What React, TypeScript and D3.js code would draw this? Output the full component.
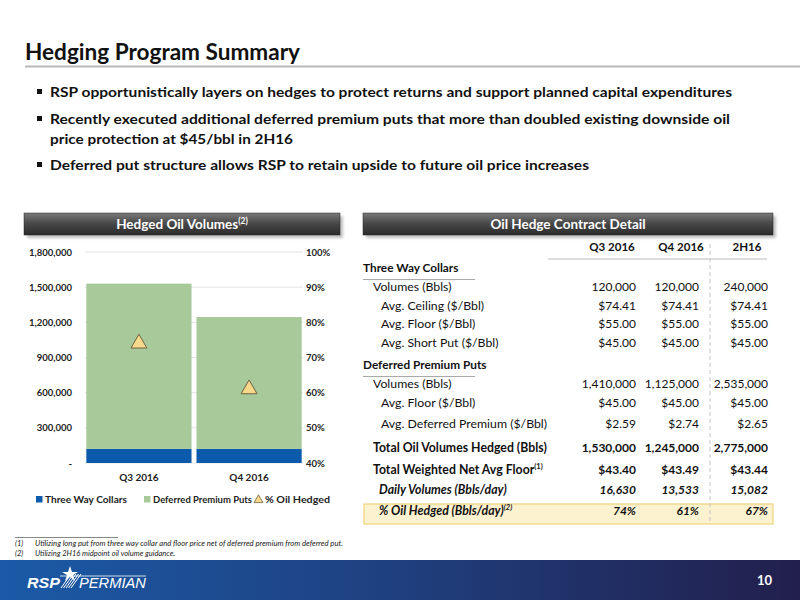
import React from 'react';
import * as d3 from 'd3';

const categories = ['Q3 2016', 'Q4 2016'];
const threeWayCollars = [120000, 120000];
const deferredPremiumPuts = [1410000, 1125000];
const pctOilHedged = [0.74, 0.61];
const leftTicks = [0, 300000, 600000, 900000, 1200000, 1500000, 1800000];
const rightTicks = [0.4, 0.5, 0.6, 0.7, 0.8, 0.9, 1.0];

const bullets = [
  ['RSP opportunistically layers on hedges to protect returns and support planned capital expenditures'],
  ['Recently executed additional deferred premium puts that more than doubled existing downside oil', 'price protection at $45/bbl in 2H16'],
  ['Deferred put structure allows RSP to retain upside to future oil price increases'],
];

const tableHeaders = ['Q3 2016', 'Q4 2016', '2H16'];
type Row = { label: string; values?: string[]; style: string; sup?: string; y: number };
const tableRows: Row[] = [
  { label: 'Three Way Collars', style: 'section', y: 272 },
  { label: 'Volumes (Bbls)', values: ['120,000', '120,000', '240,000'], style: 'l1', y: 291 },
  { label: 'Avg. Ceiling ($/Bbl)', values: ['$74.41', '$74.41', '$74.41'], style: 'l2', y: 310 },
  { label: 'Avg. Floor ($/Bbl)', values: ['$55.00', '$55.00', '$55.00'], style: 'l2', y: 328 },
  { label: 'Avg. Short Put ($/Bbl)', values: ['$45.00', '$45.00', '$45.00'], style: 'l2', y: 347 },
  { label: 'Deferred Premium Puts', style: 'section', y: 369 },
  { label: 'Volumes (Bbls)', values: ['1,410,000', '1,125,000', '2,535,000'], style: 'l1', y: 388 },
  { label: 'Avg. Floor ($/Bbl)', values: ['$45.00', '$45.00', '$45.00'], style: 'l2', y: 407 },
  { label: 'Avg. Deferred Premium ($/Bbl)', values: ['$2.59', '$2.74', '$2.65'], style: 'l2', y: 428 },
  { label: 'Total Oil Volumes Hedged (Bbls)', values: ['1,530,000', '1,245,000', '2,775,000'], style: 'bold', y: 452 },
  { label: 'Total Weighted Net Avg Floor', sup: '(1)', values: ['$43.40', '$43.49', '$43.44'], style: 'bold', y: 474 },
  { label: 'Daily Volumes (Bbls/day)', values: ['16,630', '13,533', '15,082'], style: 'italic', y: 494 },
  { label: '% Oil Hedged (Bbls/day)', sup: '(2)', values: ['74%', '61%', '67%'], style: 'italic', y: 515 },
];
const colRight = [636, 699, 768];
const colCenter = [612, 681, 747];

const footnotes = [
  ['(1)', 'Utilizing long put from three way collar and floor price net of deferred premium from deferred put.'],
  ['(2)', 'Utilizing 2H16 midpoint oil volume guidance.'],
];
const footnoteLens = [308, 140];

const FONT = 'Lato, "Open Sans", sans-serif';
const BLUE = '#0b5aab';
const GREEN = '#a8c99a';

function HeaderBox({ x, y, w, h, text, sup }: any) {
  return (
    <g>
      <rect x={x + 3} y={y + 3} width={w} height={h} fill="#000" opacity={0.25} filter={`url(#blur)`} />
      <rect x={x} y={y} width={w} height={h} fill={`url(#hdrGrad)`} stroke="#222" strokeWidth={0.5} />
      <text x={x + w / 2} y={y + h / 2 + 5} textAnchor="middle" fill="#fff" fontFamily={FONT} fontWeight={700} fontSize={13.5}>
        {text}
        {sup && <tspan fontSize={8.5} dy={-5}>{sup}</tspan>}
      </text>
    </g>
  );
}

export default function App() {
  const x0 = 85, x1 = 303, yTop = 252, yBot = 463;
  const xScale = d3.scaleBand<string>().domain(categories).range([x0, x1]).paddingInner(0.045).paddingOuter(0.012);
  const yLeft = d3.scaleLinear().domain([0, 1800000]).range([yBot, yTop]);
  const yRight = d3.scaleLinear().domain([0.4, 1.0]).range([yBot, yTop]);
  const fmt = d3.format(',');
  const stacked = categories.map((c, i) => ({ c, twc: threeWayCollars[i], dpp: deferredPremiumPuts[i] }));
  const tri = d3.symbol().type(d3.symbolTriangle).size(110);

  return (
    <svg width={800} height={600} style={{ position: 'absolute', left: 0, top: 0 }} fontFamily={FONT}>
      <defs>
        <linearGradient id="hdrGrad" x1="0" y1="0" x2="0" y2="1">
          <stop offset="0" stopColor="#7a7a7a" />
          <stop offset="0.45" stopColor="#4a4a4a" />
          <stop offset="1" stopColor="#2b2b2b" />
        </linearGradient>
        <linearGradient id="footGrad" x1="0" y1="0" x2="1" y2="0">
          <stop offset="0" stopColor="#1b5aa7" />
          <stop offset="0.5" stopColor="#1f3f7e" />
          <stop offset="1" stopColor="#221f4c" />
        </linearGradient>
        <filter id="blur"><feGaussianBlur stdDeviation="1.5" /></filter>
      </defs>
      <rect width={800} height={600} fill="#fff" />

      {/* Title */}
      <text x={25} y={60} fontSize={22} fontWeight={700} fill="#111" textLength={275} lengthAdjust="spacingAndGlyphs">Hedging Program Summary</text>
      <line x1={25} x2={800} y1={66.5} y2={66.5} stroke="#b8b8b8" strokeWidth={2} />

      {/* Bullets */}
      {(() => {
        const ys = [[97], [124, 144], [170]];
        const lens = [[682], [680, 243], [539]];
        return bullets.map((lines, i) => (
          <g key={i}>
            <rect x={37} y={ys[i][0] - 8} width={5} height={5} fill="#111" />
            {lines.map((ln, j) => (
              <text key={j} x={50} y={ys[i][j]} fontSize={14} fontWeight={700} fill="#111" textLength={lens[i][j]} lengthAdjust="spacingAndGlyphs">{ln}</text>
            ))}
          </g>
        ));
      })()}

      {/* Header boxes */}
      <HeaderBox x={24} y={213} w={316} h={22} text="Hedged Oil Volumes" sup="(2)" />
      <HeaderBox x={363} y={213} w={410} h={22} text="Oil Hedge Contract Detail" />

      {/* Chart gridlines */}
      {leftTicks.map((t) => (
        <line key={t} x1={x0} x2={x1} y1={yLeft(t)} y2={yLeft(t)} stroke="#e3e3e3" strokeWidth={1} />
      ))}
      {/* Bars */}
      {stacked.map((d) => (
        <g key={d.c}>
          <rect x={xScale(d.c)} width={xScale.bandwidth()} y={yLeft(d.twc)} height={yLeft(0) - yLeft(d.twc)} fill={BLUE} />
          <rect x={xScale(d.c)} width={xScale.bandwidth()} y={yLeft(d.twc + d.dpp)} height={yLeft(d.twc) - yLeft(d.twc + d.dpp)} fill={GREEN} />
        </g>
      ))}
      {/* Triangles */}
      {categories.map((c, i) => (
        <path key={c} d={tri() as string} transform={`translate(${(xScale(c) as number) + xScale.bandwidth() / 2},${yRight(pctOilHedged[i])})`} fill="#f8d98c" stroke="#6e6240" strokeWidth={1} />
      ))}
      {/* Left axis */}
      {leftTicks.map((t) => (
        <text key={t} x={72} y={yLeft(t) + 3.5} textAnchor="end" fontSize={9.5} fontWeight={700} fill="#222">{t === 0 ? '-' : fmt(t)}</text>
      ))}
      {/* Right axis */}
      {rightTicks.map((t) => (
        <text key={t} x={306} y={yRight(t) + 3.5} fontSize={9.5} fontWeight={700} fill="#222">{d3.format('.0%')(t)}</text>
      ))}
      {/* Category labels */}
      {categories.map((c) => (
        <text key={c} x={(xScale(c) as number) + xScale.bandwidth() / 2} y={481} textAnchor="middle" fontSize={10} fontWeight={700} fill="#222">{c}</text>
      ))}
      {/* Legend */}
      <rect x={36} y={496} width={6.5} height={6.5} fill={BLUE} />
      <text x={45} y={503} fontSize={10} fontWeight={700} fill="#222" textLength={82} lengthAdjust="spacingAndGlyphs">Three Way Collars</text>
      <rect x={144} y={496} width={6.5} height={6.5} fill={GREEN} />
      <text x={153} y={503} fontSize={10} fontWeight={700} fill="#222" textLength={99} lengthAdjust="spacingAndGlyphs">Deferred Premium Puts</text>
      <path d={d3.symbol().type(d3.symbolTriangle).size(35)() as string} transform="translate(258.5,500)" fill="#f8d98c" stroke="#6e6240" strokeWidth={0.8} />
      <text x={265} y={503} fontSize={10} fontWeight={700} fill="#222" textLength={65} lengthAdjust="spacingAndGlyphs">% Oil Hedged</text>

      {/* Table */}
      <rect x={364} y={504} width={409} height={20} fill="#fdf2cf" stroke="#efd27c" strokeWidth={1.2} />
      {tableHeaders.map((h, i) => (
        <text key={h} x={colCenter[i]} y={251} textAnchor="middle" fontSize={11.5} fontWeight={700} fill="#111">{h}</text>
      ))}
      <line x1={548} x2={767} y1={259} y2={259} stroke="#bbb" strokeWidth={1} />
      <line x1={710} x2={710} y1={244} y2={523} stroke="#c4c4c4" strokeWidth={1} strokeDasharray="4,3" />
      {tableRows.map((r, i) => {
        const lx = r.style === 'section' ? 363 : r.style === 'l1' || r.style === 'bold' ? 373 : r.style === 'italic' ? 379 : 381;
        const fw = r.style === 'section' || r.style === 'bold' || r.style === 'italic' ? 700 : 400;
        const fi = r.style === 'italic' ? 'italic' : 'normal';
        return (
          <g key={i}>
            <text x={lx} y={r.y} fontSize={r.style === 'section' ? 11.8 : 12.3} fontWeight={fw} fontStyle={fi} fill="#111">
              {r.label}
              {r.sup && <tspan fontSize={7.5} dy={-5}>{r.sup}</tspan>}
            </text>
            {r.style === 'section' && <line x1={363} x2={475} y1={r.y + 7.5} y2={r.y + 7.5} stroke="#aaa" strokeWidth={1} />}
            {r.values && r.values.map((v, j) => (
              <text key={j} x={colRight[j]} y={r.y} textAnchor="end" fontSize={12} fontWeight={fw} fontStyle={fi} fill="#111">{v}</text>
            ))}
          </g>
        );
      })}

      {/* Footnotes */}
      <line x1={15} x2={118} y1={537.5} y2={537.5} stroke="#555" strokeWidth={0.7} />
      {footnotes.map((f, i) => (
        <g key={i}>
          <text x={15} y={546 + i * 10} fontSize={7.5} fontStyle="italic" fill="#222">{f[0]}</text>
          <text x={35} y={546 + i * 10} fontSize={7.5} fontStyle="italic" fill="#222" textLength={footnoteLens[i]} lengthAdjust="spacingAndGlyphs">{f[1]}</text>
        </g>
      ))}

      {/* Footer */}
      <rect x={0} y={560} width={800} height={40} fill="url(#footGrad)" />
      <g fill="#fff">
        <text x={27} y={588} fontSize={15} fontWeight={900} fontStyle="italic" fontFamily='"Liberation Sans", Arial, sans-serif' fill="#fff" textLength={33} lengthAdjust="spacingAndGlyphs">RSP</text>
        <line x1={60} x2={146} y1={576} y2={576} stroke="#fff" strokeWidth={0.8} />
        {[0, 1, 2, 3, 4].map((k) => (
          <line key={k} x1={61 + k * 2.5} y1={588} x2={71 + k * 2.5} y2={574} stroke="#fff" strokeWidth={1} />
        ))}
        <polygon points="70,566 72,572 78,572 73,575 75,581 70,577 65,581 67,575 62,572 68,572" fill="#fff" />
        <text x={79} y={588} fontSize={14.5} fontStyle="italic" fontFamily='"Liberation Sans", Arial, sans-serif' fill="#fff" textLength={67} lengthAdjust="spacingAndGlyphs">PERMIAN</text>
      </g>
      <text x={757} y={585} fontSize={13} fontWeight={700} fill="#fff">10</text>
    </svg>
  );
}
